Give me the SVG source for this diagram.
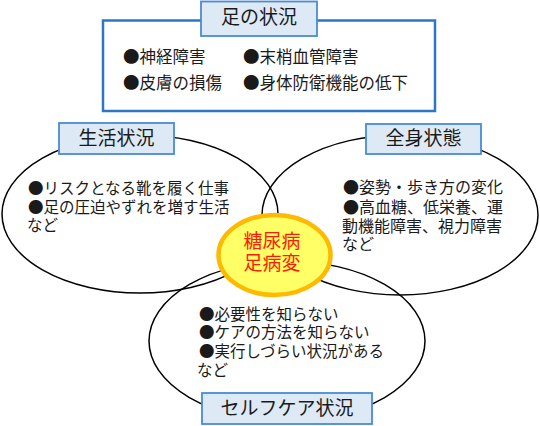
<svg xmlns="http://www.w3.org/2000/svg" width="540" height="426" viewBox="0 0 540 426">
<style>
text{font-family:"Noto Sans CJK JP","Noto Sans",sans-serif;fill:#1a1a1a}
.t{font-size:16.5px}
.s{font-size:15.5px}
.m{font-size:16px}
.lbl{font-size:19px;text-anchor:middle}
.lb{fill:#dde9f5;stroke:#4a8bd4;stroke-width:1.8}
.ring{fill:none;stroke:#000;stroke-width:1.5}
.core{font-size:19px;text-anchor:middle;fill:#ff1a00}
</style>
<rect width="540" height="426" fill="#fff"/>
<g id="connectors">
<ellipse class="ring" cx="140" cy="214" rx="138" ry="79"/>
<ellipse class="ring" cx="400" cy="215" rx="138" ry="80"/>
<ellipse class="ring" cx="287" cy="341" rx="138" ry="80"/>
</g>
<g id="foot">
<rect x="103" y="20.5" width="332" height="90.5" fill="#fff" stroke="#2e75c6" stroke-width="2.5"/>
<rect class="lb" x="201" y="1.5" width="116" height="34.5"/>
<text class="lbl" x="259" y="24">足の状況</text>
<text class="t" x="123" y="63.3">●神経障害</text>
<text class="t" x="243" y="63.3">●末梢血管障害</text>
<text class="t" x="123" y="89.3">●皮膚の損傷</text>
<text class="t" x="243" y="89.3">●身体防衛機能の低下</text>
</g>
<g id="life">
<rect class="lb" x="59" y="123" width="115" height="31"/>
<text class="lbl" x="116.5" y="144.5">生活状況</text>
<text class="s" x="28" y="194">●リスクとなる靴を履く仕事</text>
<text class="s" x="28" y="213">●足の圧迫やずれを増す生活</text>
<text class="s" x="27" y="231">など</text>
</g>
<g id="body">
<rect class="lb" x="366" y="124" width="115" height="30"/>
<text class="lbl" x="423.5" y="145">全身状態</text>
<text class="m" x="343" y="193">●姿勢・歩き方の変化</text>
<text class="m" x="343" y="212.7">●高血糖、低栄養、運</text>
<text class="m" x="342" y="232">動機能障害、視力障害</text>
<text class="m" x="342" y="250">など</text>
</g>
<g id="selfcare">
<rect class="lb" x="202" y="393" width="170" height="31"/>
<text class="lbl" x="287" y="415">セルフケア状況</text>
<text class="s" x="199" y="320">●必要性を知らない</text>
<text class="s" x="199" y="338">●ケアの方法を知らない</text>
<text class="s" x="199" y="357">●実行しづらい状況がある</text>
<text class="s" x="197" y="376">など</text>
</g>
<g id="center">
<ellipse cx="274.5" cy="255" rx="56" ry="40" fill="#ffff66" stroke="#ffb900" stroke-width="4.5"/>
<text class="core" x="272" y="248">糖尿病</text>
<text class="core" x="272" y="270">足病変</text>
</g>
</svg>
